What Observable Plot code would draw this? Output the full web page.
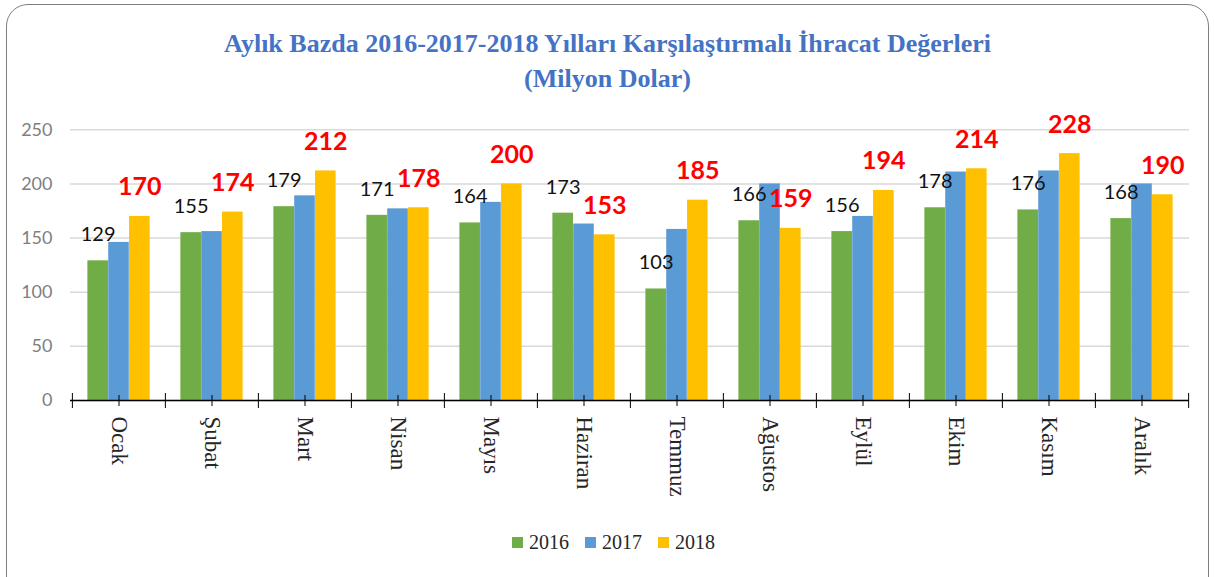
<!DOCTYPE html>
<html><head><meta charset="utf-8">
<script src="https://cdn.jsdelivr.net/npm/d3@7"></script>
<script src="https://cdn.jsdelivr.net/npm/@observablehq/plot@0.6"></script>
<style>
body{margin:0;background:#fff;width:1215px;height:577px;overflow:hidden;position:relative;font-family:"Liberation Serif",serif}
#frame{position:absolute;left:6px;top:4px;width:1203px;height:640px;border:1.5px solid #7f7f7f;border-radius:22px;box-sizing:border-box}
#title{position:absolute;left:0;width:1215px;top:26px;text-align:center;color:#4472c4;font-size:26px;line-height:35px;font-weight:bold;font-family:"Liberation Serif",serif}
#chart{position:absolute;left:0;top:100px}
#legend{position:absolute;top:531px;left:0;width:1215px;display:flex;justify-content:center;font-family:"Liberation Serif",serif;font-size:20px;color:#262626;padding-left:12px;box-sizing:border-box}
#legend span.item{display:flex;align-items:center;margin:0 8px}
#legend span.sw{display:inline-block;width:11px;height:11px;margin-right:6px}
#chart g[aria-label="y-axis tick label"]{font-family:Lato,sans-serif !important;font-size:18px !important;fill:#808080}
#chart g[aria-label="x-axis tick label"]{font-family:"Liberation Serif",serif !important;font-size:23px !important;fill:#262626}
</style>
</head><body>
<div id="frame"></div>
<div id="title">Aylık Bazda 2016-2017-2018 Yılları Karşılaştırmalı İhracat Değerleri<br>(Milyon Dolar)</div>
<div id="chart"></div>
<div id="legend"></div>
<script>
const months = ["Ocak","Şubat","Mart","Nisan","Mayıs","Haziran","Temmuz","Ağustos","Eylül","Ekim","Kasım","Aralık"];
const years = ["2016","2017","2018"];
const v2016 = [129,155,179,171,164,173,103,166,156,178,176,168];
const v2017 = [146,156,189,177,183,163,158,200,170,211,212,200];
const v2018 = [170,174,212,178,200,153,185,159,194,214,228,190];
const colors = ["#70AD47","#5B9BD5","#FFC000"];
const yTicks = [0,50,100,150,200,250];

const W=1215, H=420, mL=70, mR=26, mT=29.3, mB=120;
const bw=(W-mL-mR)/months.length;
const edge=0.165, barF=(1-2*edge)/3;
const series=[v2016,v2017,v2018].map((vals,k)=>months.map((m,i)=>({month:m,value:vals[i],year:years[k]})));
const off=(0.5-edge-barF/2)*bw;

const chart = Plot.plot({
  width:W, height:H, marginLeft:mL, marginRight:mR, marginTop:mT, marginBottom:mB,
  style:{background:"transparent"},
  x:{domain:months, padding:0, axis:null, label:null},
  y:{domain:[0,250], axis:null, label:null},
  marks:[
    Plot.gridY(yTicks,{stroke:"#d9d9d9",strokeOpacity:1,strokeWidth:1.5}),
    ...series.map((d,k)=>Plot.barY(d,{x:"month",y:"value",fill:colors[k],
      insetLeft:bw*(edge+k*barF),insetRight:bw*(1-edge-(k+1)*barF)})),
    Plot.ruleY([0],{stroke:"#000",strokeWidth:1.5}),
    Plot.ruleX(months,{x:d=>d,y1:0,y2:0,insetTop:-5,insetBottom:-6,stroke:"#000"}),
    Plot.ruleX(months,{x:d=>d,y1:0,y2:0,insetTop:-7,insetBottom:-8,stroke:"#000",dx:-bw/2}),
    Plot.ruleX([months[months.length-1]],{x:d=>d,y1:0,y2:0,insetTop:-7,insetBottom:-8,stroke:"#000",dx:bw/2}),
    Plot.text(series[0],{x:"month",y:"value",text:d=>String(d.value),dx:-off,dy:-26,fontSize:20,fill:"#111",fontFamily:"Lato"}),
    Plot.text(series[2],{x:"month",y:"value",text:d=>String(d.value),dx:off,dy:-29,fontSize:25,fill:"#ff0000",fontWeight:"bold",fontFamily:"Lato"}),
    Plot.axisY({ticks:yTicks,tickSize:0,tickPadding:18,label:null}),
    Plot.axisX({tickSize:0,tickRotate:90,tickPadding:16,label:null})
  ]
});
document.getElementById("chart").appendChild(chart);

const leg=document.getElementById("legend");
years.forEach((y,k)=>{
  const it=document.createElement("span");it.className="item";
  const sw=document.createElement("span");sw.className="sw";sw.style.background=colors[k];
  it.appendChild(sw);it.appendChild(document.createTextNode(y));leg.appendChild(it);
});
</script>
</body></html>
